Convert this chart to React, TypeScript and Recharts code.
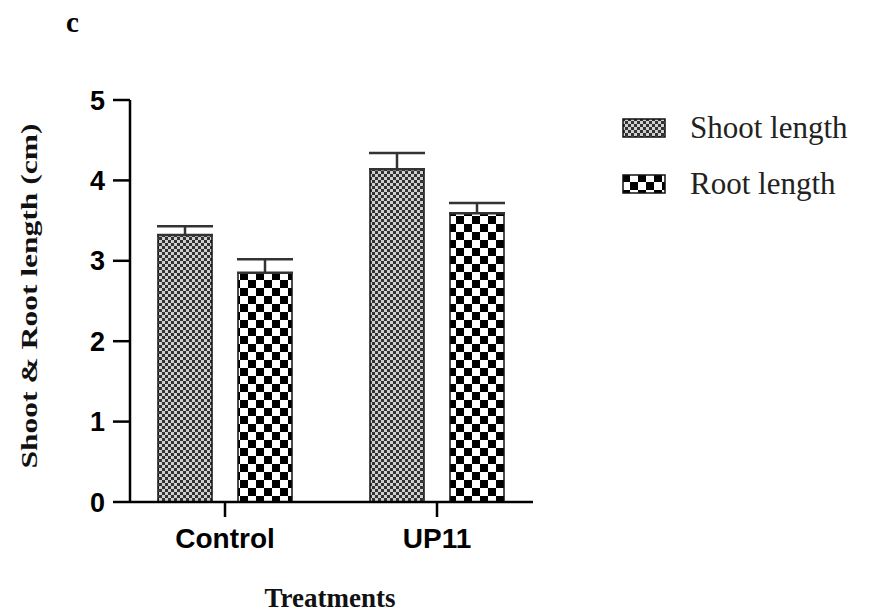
import React from 'react';
import {
  BarChart,
  Bar,
  XAxis,
  YAxis,
  ErrorBar,
  Label,
} from 'recharts';

const treatments = ['Control', 'UP11'];
const shootLength = [3.32, 4.14];
const shootError = [0.11, 0.2];
const rootLength = [2.85, 3.59];
const rootError = [0.17, 0.13];
const yTicks = [0, 1, 2, 3, 4, 5];
const seriesNames = ['Shoot length', 'Root length'];

const data = treatments.map((name, i) => ({
  name,
  shoot: shootLength[i],
  shootErr: [0, shootError[i]],
  root: rootLength[i],
  rootErr: [0, rootError[i]],
}));

const SANS = '"Liberation Sans", Arial, sans-serif';
const SERIF = '"Liberation Serif", "Times New Roman", serif';

const YLabel = () => (
  <text
    x={0}
    y={0}
    transform="translate(37, 296) rotate(-90)"
    textAnchor="middle"
    fontFamily={SERIF}
    fontWeight="bold"
    fontSize={24}
    fill="#111"
    textLength={345}
    lengthAdjust="spacingAndGlyphs"
  >
    Shoot &amp; Root length (cm)
  </text>
);

const XLabel = () => (
  <text
    x={330}
    y={607}
    textAnchor="middle"
    fontFamily={SERIF}
    fontWeight="bold"
    fontSize={27}
    fill="#111"
  >
    Treatments
  </text>
);

const LegendBox = () => {
  const fills = ['url(#shootPat)', 'url(#rootPat)'];
  return (
    <div style={{ position: 'absolute', left: 622, top: 100 }}>
      {seriesNames.map((label, i) => (
        <div key={label} style={{ display: 'flex', alignItems: 'center', height: 56 }}>
          <svg width={44} height={20} style={{ marginRight: 24 }}>
            <rect x={1} y={1} width={42} height={18} fill={fills[i]} stroke="#111" strokeWidth={1.5} />
          </svg>
          <span style={{ fontFamily: SERIF, fontSize: 31, color: '#222' }}>{label}</span>
        </div>
      ))}
    </div>
  );
};

export default function App() {
  return (
    <div style={{ position: 'absolute', left: 0, top: 0, width: 873, height: 614, background: '#fff' }}>
      <div
        style={{
          position: 'absolute',
          left: 66,
          top: 7,
          fontFamily: SERIF,
          fontWeight: 'bold',
          fontSize: 29,
          lineHeight: '30px',
        }}
      >
        c
      </div>
      <BarChart
        width={873}
        height={614}
        data={data}
        margin={{ top: 100, right: 340, bottom: 0, left: 70 }}
        barSize={54}
        barGap={26}
      >
        <defs>
          <pattern id="shootPat" patternUnits="userSpaceOnUse" width={6} height={6}>
            <rect width={6} height={6} fill="#cfcfcf" />
            <rect width={3} height={3} fill="#333" />
            <rect x={3} y={3} width={3} height={3} fill="#333" />
          </pattern>
          <pattern id="rootPat" patternUnits="userSpaceOnUse" width={16} height={16}>
            <rect width={16} height={16} fill="#ffffff" />
            <rect width={8} height={8} fill="#000" />
            <rect x={8} y={8} width={8} height={8} fill="#000" />
          </pattern>
        </defs>
        <XAxis
          dataKey="name"
          height={112}
          padding={{ left: -11, right: -10 }}
          axisLine={{ stroke: '#000', strokeWidth: 2.5 }}
          tickLine={{ stroke: '#000', strokeWidth: 2.5 }}
          tickSize={15}
          tickMargin={11}
          tick={{ fill: '#000', fontSize: 28, fontWeight: 'bold', fontFamily: SANS }}
        >
          <Label content={<XLabel />} />
        </XAxis>
        <YAxis
          width={60}
          domain={[0, 5]}
          ticks={yTicks}
          interval={0}
          axisLine={{ stroke: '#000', strokeWidth: 2.5 }}
          tickLine={{ stroke: '#000', strokeWidth: 2.5 }}
          tickSize={17}
          tickMargin={8}
          tick={{ fill: '#000', fontSize: 27, fontWeight: 'bold', fontFamily: SANS }}
        >
          <Label content={<YLabel />} />
        </YAxis>
        <Bar dataKey="shoot" name={seriesNames[0]} fill="url(#shootPat)" stroke="#111" strokeWidth={1.5} isAnimationActive={false}>
          <ErrorBar dataKey="shootErr" direction="y" width={28} stroke="#333" strokeWidth={2.5} />
        </Bar>
        <Bar dataKey="root" name={seriesNames[1]} fill="url(#rootPat)" stroke="#111" strokeWidth={1.5} isAnimationActive={false}>
          <ErrorBar dataKey="rootErr" direction="y" width={28} stroke="#333" strokeWidth={2.5} />
        </Bar>
      </BarChart>
      <LegendBox />
    </div>
  );
}
